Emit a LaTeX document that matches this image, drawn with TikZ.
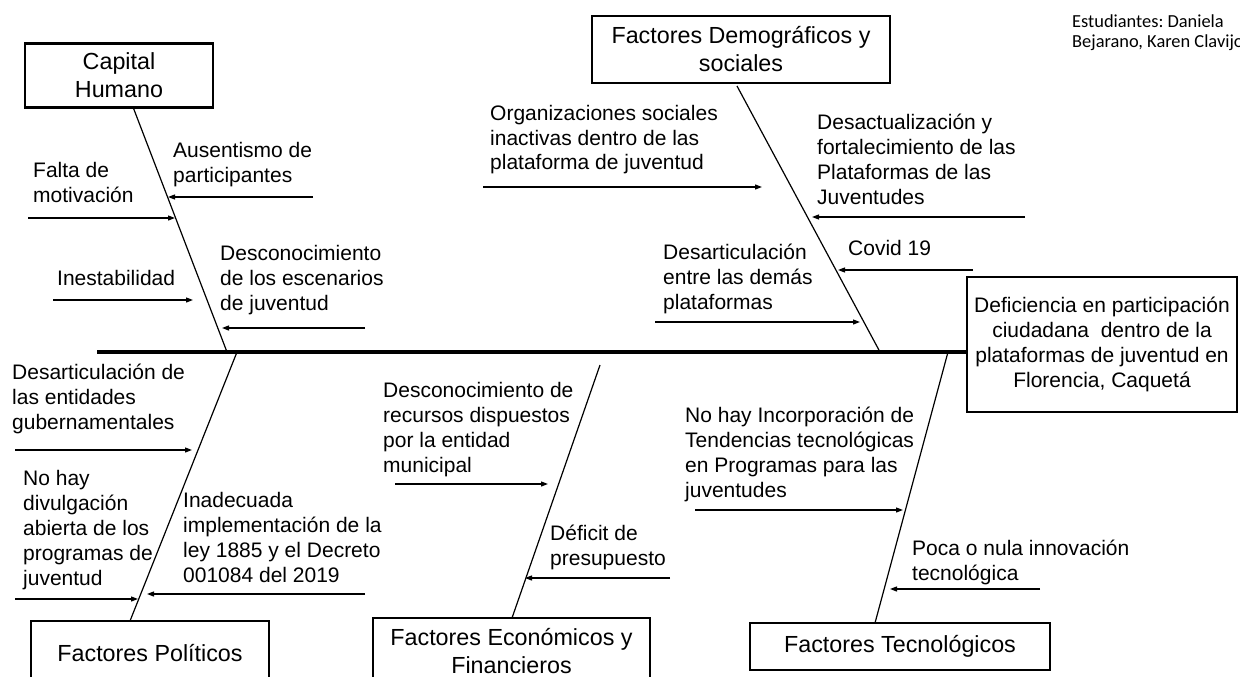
\documentclass[tikz,border=0pt]{standalone}
\usepackage{fontspec}
\setmainfont{Liberation Sans}
\newfontfamily\calibfont{Carlito}
\usetikzlibrary{arrows.meta}
\frenchspacing
\newcommand{\mlines}[1]{\begin{tabular}[t]{@{}l@{}}#1\end{tabular}}
\begin{document}
\begin{tikzpicture}[x=1pt,y=-1pt,
  catbox/.style={draw=black,line width=2.8pt,inner sep=0pt,align=center,font=\fontsize{23.3}{28}\selectfont},
  effbox/.style={draw=black,line width=2.8pt,inner sep=0pt,align=center,font=\fontsize{21}{25}\selectfont},
  cause/.style={inner sep=0pt,anchor=base west,font=\fontsize{21}{25}\selectfont},
  bone/.style={line width=1.2pt,black},
  spine/.style={line width=3.3pt,black},
  arr/.style={line width=1.2pt,black,-{Triangle[length=7pt,width=5pt]}}]
\useasboundingbox (0,0) rectangle (1240,677);
\clip (0,0) rectangle (1240,677);

% author note
\node[inner sep=0pt,anchor=base west,font=\calibfont\fontsize{18.4}{20}\selectfont] (auth) at (1072,28)
  {\begin{tabular}[t]{@{}l@{}}Estudiantes: Daniela\\ Bejarano, Karen Clavijo\end{tabular}};

% boxes
\node[catbox,minimum width=188pt,minimum height=64pt] (ch) at (119,75.5) {Capital\\Humano};
\node[catbox,minimum width=298pt,minimum height=67pt] (dem) at (741,49.5) {Factores Demográficos y\\sociales};
\node[effbox,minimum width=270pt,minimum height=135pt] (eff) at (1102,344.5) {Deficiencia en participación\\ciudadana \ dentro de la\\plataformas de juventud en\\Florencia, Caquetá};
\node[catbox,minimum width=238pt,minimum height=64pt] (pol) at (150,653) {Factores Políticos};
\node[catbox,minimum width=277pt,minimum height=66pt] (eco) at (511.5,651) {Factores Económicos y\\Financieros};
\node[catbox,minimum width=300pt,minimum height=47pt] (tec) at (900,646.5) {Factores Tecnológicos};

% spine
\coordinate (sp0) at (97,352);
\draw[spine] (sp0) -- (sp0 -| eff.west);

% bones
\coordinate (chA) at (133,107);  \coordinate (chB) at (227,352);
\coordinate (deA) at (737,86);   \coordinate (deB) at (880,352);
\coordinate (poA) at (237,352);  \coordinate (poB) at (130,621);
\coordinate (ecA) at (600,365);  \coordinate (ecB) at (512,618);
\coordinate (teA) at (948,352);  \coordinate (teB) at (875,623);
\draw[bone] (chA) -- (chB);
\draw[bone] (deA) -- (deB);
\draw[bone] (poA) -- (poB);
\draw[bone] (ecA) -- (ecB);
\draw[bone] (teA) -- (teB);

% Capital Humano causes
\node[cause] (t1) at (173,157) {\mlines{Ausentismo de\\participantes}};
\node[cause] (t2) at (33,177) {\mlines{Falta de\\motivación}};
\node[cause] (t3) at (57,285) {Inestabilidad};
\node[cause] (t4) at (220,260) {\mlines{Desconocimiento\\de los escenarios\\de juventud}};
\coordinate (a1s) at (313,197); \coordinate (a1e) at (168,197);
\coordinate (a2s) at (28,218);  \coordinate (a2e) at (175,218);
\coordinate (a3s) at (53,300);  \coordinate (a3e) at (193,300);
\coordinate (a4s) at (365,328); \coordinate (a4e) at (222,328);
\draw[arr] (a1s) -- (a1e);
\draw[arr] (a2s) -- (a2e);
\draw[arr] (a3s) -- (a3e);
\draw[arr] (a4s) -- (a4e);

% Demograficos causes
\node[cause] (t5) at (490,120) {\mlines{Organizaciones sociales\\inactivas dentro de las\\plataforma de juventud}};
\node[cause] (t6) at (817,129) {\mlines{Desactualización y\\fortalecimiento de las\\Plataformas de las\\Juventudes}};
\node[cause] (t7) at (848,255) {Covid 19};
\node[cause] (t8) at (663,259) {\mlines{Desarticulación\\entre las demás\\plataformas}};
\coordinate (a5s) at (483,187);  \coordinate (a5e) at (762,187);
\coordinate (a6s) at (1025,217); \coordinate (a6e) at (812,217);
\coordinate (a7s) at (973,270);  \coordinate (a7e) at (838,270);
\coordinate (a8s) at (655,322);  \coordinate (a8e) at (860,322);
\draw[arr] (a5s) -- (a5e);
\draw[arr] (a6s) -- (a6e);
\draw[arr] (a7s) -- (a7e);
\draw[arr] (a8s) -- (a8e);

% Politicos causes
\node[cause] (t9) at (12,379) {\mlines{Desarticulación de\\las entidades\\gubernamentales}};
\node[cause] (t10) at (23,485) {\mlines{No hay\\divulgación\\abierta de los\\programas de\\juventud}};
\node[cause] (t11) at (183,507) {\mlines{Inadecuada\\implementación de la\\ley 1885 y el Decreto\\001084 del 2019}};
\coordinate (a9s) at (15,450);   \coordinate (a9e) at (192,450);
\coordinate (a10s) at (15,599);  \coordinate (a10e) at (138,599);
\coordinate (a11s) at (365,594); \coordinate (a11e) at (147,594);
\draw[arr] (a9s) -- (a9e);
\draw[arr] (a10s) -- (a10e);
\draw[arr] (a11s) -- (a11e);

% Economicos causes
\node[cause] (t12) at (383,397) {\mlines{Desconocimiento de\\recursos dispuestos\\por la entidad\\municipal}};
\node[cause] (t13) at (550,540) {\mlines{Déficit de\\presupuesto}};
\coordinate (a12s) at (395,484); \coordinate (a12e) at (548,484);
\coordinate (a13s) at (670,578); \coordinate (a13e) at (525,578);
\draw[arr] (a12s) -- (a12e);
\draw[arr] (a13s) -- (a13e);

% Tecnologicos causes
\node[cause] (t14) at (685,422) {\mlines{No hay Incorporación de\\Tendencias tecnológicas\\en Programas para las\\juventudes}};
\node[cause] (t15) at (912,555) {\mlines{Poca o nula innovación\\tecnológica}};
\coordinate (a14s) at (695,510);  \coordinate (a14e) at (903,510);
\coordinate (a15s) at (1040,589); \coordinate (a15e) at (890,589);
\draw[arr] (a14s) -- (a14e);
\draw[arr] (a15s) -- (a15e);
\end{tikzpicture}
\end{document}
